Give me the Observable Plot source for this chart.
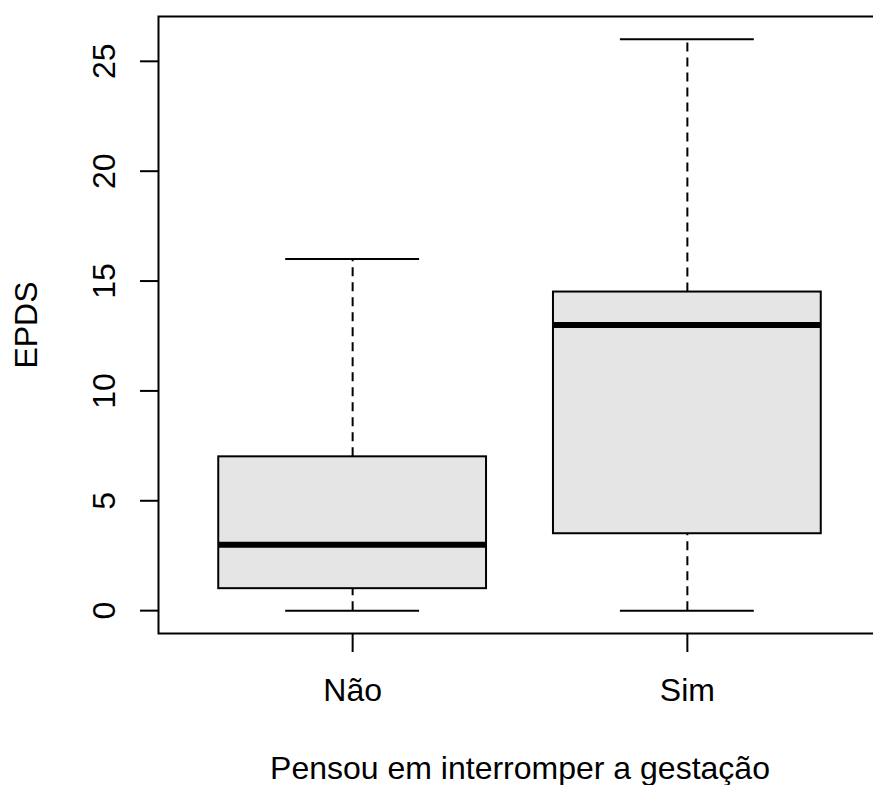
<!DOCTYPE html>
<html>
<head>
<meta charset="utf-8">
<script src="https://cdn.jsdelivr.net/npm/d3@7"></script>
<script src="https://cdn.jsdelivr.net/npm/@observablehq/plot@0.6"></script>
<style>
  html, body { margin: 0; padding: 0; background: white; overflow: hidden; }
  #chart svg { display: block; }
</style>
</head>
<body>
<div id="chart"></div>
<script>
// Data
const groups = ["Não", "Sim"];
const whiskerLow = [0, 0];
const q1 = [1, 3.5];
const median = [3, 13];
const q3 = [7, 14.5];
const whiskerHigh = [16, 26];
const yTicks = [0, 5, 10, 15, 20, 25];
const xLabel = "Pensou em interromper a gestação";
const yLabel = "EPDS";

const data = groups.map((g, i) => ({
  group: g, pos: i + 1,
  lo: whiskerLow[i], q1: q1[i], med: median[i], q3: q3[i], hi: whiskerHigh[i]
}));

const boxHalf = 0.4, capHalf = 0.2;

const chart = Plot.plot({
  width: 873,
  height: 785,
  marginLeft: 158,
  marginRight: -8,
  marginTop: 16,
  marginBottom: 152,
  style: {fontFamily: "'Liberation Sans', Arial, sans-serif", fontSize: "32px", color: "black", background: "white"},
  x: {domain: [0.42, 2.58]},
  y: {domain: [-1.04, 27.04]},
  marks: [
    // whiskers (dashed)
    Plot.ruleX(data, {x: "pos", y1: "q3", y2: "hi", stroke: "black", strokeWidth: 2, strokeDasharray: "9,6"}),
    Plot.ruleX(data, {x: "pos", y1: "lo", y2: "q1", stroke: "black", strokeWidth: 2, strokeDasharray: "9,6"}),
    // caps
    Plot.ruleY(data, {y: "hi", x1: d => d.pos - capHalf, x2: d => d.pos + capHalf, stroke: "black", strokeWidth: 2}),
    Plot.ruleY(data, {y: "lo", x1: d => d.pos - capHalf, x2: d => d.pos + capHalf, stroke: "black", strokeWidth: 2}),
    // boxes
    Plot.rect(data, {x1: d => d.pos - boxHalf, x2: d => d.pos + boxHalf, y1: "q1", y2: "q3", fill: "#e5e5e5", stroke: "black", strokeWidth: 2}),
    // medians
    Plot.ruleY(data, {y: "med", x1: d => d.pos - boxHalf, x2: d => d.pos + boxHalf, stroke: "black", strokeWidth: 6}),
    // axes
    Plot.axisY({
      ticks: yTicks, tickSize: 18, tickPadding: 36, tickRotate: -90,
      textAnchor: "middle", lineAnchor: "middle", strokeWidth: 2,
      label: yLabel, labelAnchor: "center", labelOffset: 144, labelArrow: "none"
    }),
    Plot.axisX({
      ticks: [1, 2], tickFormat: d => groups[d - 1], tickSize: 19, tickPadding: 26, strokeWidth: 2,
      label: xLabel, labelAnchor: "center", labelOffset: 145, labelArrow: "none"
    }),
    Plot.frame({stroke: "black", strokeWidth: 2})
  ]
});
document.getElementById("chart").appendChild(chart);
</script>
</body>
</html>
